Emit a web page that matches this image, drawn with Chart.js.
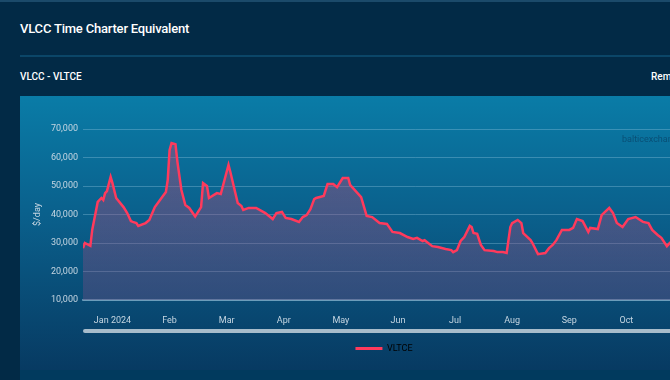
<!DOCTYPE html>
<html>
<head>
<meta charset="utf-8">
<title>VLCC Time Charter Equivalent</title>
<script src="https://cdn.jsdelivr.net/npm/chart.js@4/dist/chart.umd.min.js"></script>
<style>
    html, body { margin: 0; padding: 0; }
    body {
        width: 670px; height: 380px; overflow: hidden; position: relative;
        background: #022a46; font-family: Roboto, "Noto Sans", sans-serif; color: #fff;
    }
    .borda-topo { position: absolute; left: 0; top: 0; width: 100%; height: 2px; background: #1b4a6a; }
    .titulo { position: absolute; left: 20px; top: 21px; font-size: 13px; font-weight: 500; letter-spacing: -0.2px; }
    .linha { position: absolute; left: 20px; top: 55px; width: 700px; height: 2px; background: #0b4668; }
    .subtitulo { position: absolute; left: 20px; top: 71px; font-size: 10px; font-weight: 500; }
    .rem { position: absolute; left: 651px; top: 71px; font-size: 10px; font-weight: 500; }
    .rodape { position: absolute; left: 20px; top: 370px; width: 700px; height: 10px; background: #013a5e; }
    .painel {
        position: absolute; left: 20px; top: 96px; width: 738px; height: 274px;
        background: linear-gradient(to bottom, #0a7ca7 0%, #0a5f8b 45%, #073a62 100%);
    }
    .marca { position: absolute; left: 602px; top: 38px; font-size: 9px; color: rgba(8, 55, 90, 0.6); }
    .scroll { position: absolute; left: 63px; top: 233px; width: 700px; height: 4px; border-radius: 2px; background: #a7bccb; }
</style>
</head>
<body>
<div class="borda-topo"></div>
<div class="titulo">VLCC Time Charter Equivalent</div>
<div class="linha"></div>
<div class="subtitulo">VLCC - VLTCE</div>
<div class="rem">Rem</div>
<div class="rodape"></div>
<div class="painel">
    <canvas id="graficoVltce"></canvas>
    <div class="marca">balticexchange</div>
    <div class="scroll"></div>
</div>

<script>
// Rótulos dos meses no eixo x
var meses = ['Jan 2024', 'Feb', 'Mar', 'Apr', 'May', 'Jun', 'Jul', 'Aug', 'Sep', 'Oct', 'Nov'];

// Datas dos pontos da série
var datas = [
    '2023-12-16', '2023-12-17', '2023-12-20', '2023-12-21', '2023-12-24', '2023-12-26', '2023-12-27', '2023-12-28', '2023-12-29', '2023-12-31',
    '2024-01-01', '2024-01-03', '2024-01-07', '2024-01-09', '2024-01-11', '2024-01-12', '2024-01-14', '2024-01-15', '2024-01-19', '2024-01-21', '2024-01-24', '2024-01-28', '2024-01-30', '2024-01-31',
    '2024-02-01', '2024-02-02', '2024-02-04', '2024-02-05', '2024-02-07', '2024-02-09', '2024-02-11', '2024-02-14', '2024-02-17', '2024-02-18', '2024-02-20', '2024-02-21', '2024-02-25', '2024-02-27',
    '2024-03-02', '2024-03-03', '2024-03-07', '2024-03-09', '2024-03-10', '2024-03-13', '2024-03-17', '2024-03-22', '2024-03-26', '2024-03-28', '2024-03-31',
    '2024-04-02', '2024-04-05', '2024-04-09', '2024-04-11', '2024-04-13', '2024-04-15', '2024-04-17', '2024-04-18', '2024-04-22', '2024-04-24', '2024-04-27', '2024-04-29',
    '2024-05-02', '2024-05-05', '2024-05-06', '2024-05-12', '2024-05-15', '2024-05-18', '2024-05-22', '2024-05-26', '2024-05-29',
    '2024-06-02', '2024-06-06', '2024-06-09', '2024-06-11', '2024-06-14', '2024-06-15', '2024-06-19', '2024-06-22', '2024-06-26', '2024-06-29', '2024-06-30',
    '2024-07-02', '2024-07-04', '2024-07-06', '2024-07-09', '2024-07-10', '2024-07-11', '2024-07-13', '2024-07-15', '2024-07-17', '2024-07-22', '2024-07-24', '2024-07-27', '2024-07-29', '2024-07-31',
    '2024-08-01', '2024-08-04', '2024-08-06', '2024-08-07', '2024-08-11', '2024-08-12', '2024-08-15', '2024-08-19', '2024-08-21', '2024-08-23', '2024-08-25', '2024-08-28',
    '2024-09-01', '2024-09-03', '2024-09-05', '2024-09-08', '2024-09-11', '2024-09-12', '2024-09-16', '2024-09-18', '2024-09-22', '2024-09-24', '2024-09-26', '2024-09-29',
    '2024-10-02', '2024-10-06', '2024-10-10', '2024-10-13', '2024-10-15', '2024-10-18', '2024-10-20', '2024-10-23', '2024-10-25'
];

// Valores VLTCE em $/dia
var vltce = [
    28200, 30000, 29000, 34600, 44400, 45800, 45100, 47500, 48200, 53200,
    51000, 45800, 42600, 40500, 37700, 37400, 37000, 36000, 37000, 38100, 42600, 46100, 47900, 52100,
    62600, 65100, 64700, 58400, 48600, 43300, 42300, 39300, 42600, 51000, 50000, 45800, 47500, 47200,
    57400, 54900, 44000, 43000, 41600, 42300, 42300, 40500, 38400, 40500, 40900,
    38800, 38400, 37400, 39100, 39800, 41900, 45400, 45800, 46500, 50700, 50700, 49600,
    52800, 52800, 50400, 46100, 39500, 39100, 37000, 36700, 33900,
    33500, 32100, 31400, 31800, 30700, 31000, 28900, 28600, 27900, 27500, 26800,
    27500, 30700, 32100, 36000, 35600, 33500, 33200, 29300, 27500, 27200, 26800, 26800, 26500, 35600,
    37000, 38100, 37000, 33500, 31000, 30000, 26100, 26500, 28200, 29300, 31000, 34600,
    34600, 35300, 38400, 37700, 33900, 35300, 34900, 39800, 42300, 40500, 37000, 35600,
    38400, 39100, 37400, 37000, 34600, 32800, 31800, 28900, 30300
];

// Ticks do eixo y
var ticksY = [10000, 20000, 30000, 40000, 50000, 60000, 70000];

// Converte a data numa posição em meses (Jan 2024 = 0), meses com largura igual
function posicaoMes(data) {
    var p = data.split('-');
    var ano = parseInt(p[0], 10), mes = parseInt(p[1], 10), dia = parseInt(p[2], 10);
    var diasNoMes = new Date(ano, mes, 0).getDate();
    return (ano - 2024) * 12 + (mes - 1) + (dia - 1) / diasNoMes;
}

var pontos = datas.map(function(d, i) {
    return { x: posicaoMes(d), y: vltce[i] };
});

var corLinha = '#ff3a5c';
var ctx = document.getElementById('graficoVltce');

new Chart(ctx.getContext('2d'), {
    type: 'line',
    data: {
        datasets: [{
            label: 'VLTCE',
            data: pontos,
            borderColor: corLinha,
            borderWidth: 2.5,
            pointRadius: 0,
            tension: 0,
            fill: 'start',
            backgroundColor: function(context) {
                var area = context.chart.chartArea;
                if (!area) return 'rgba(170,80,120,0.4)';
                var g = context.chart.ctx.createLinearGradient(0, area.top, 0, area.bottom);
                g.addColorStop(0, 'rgba(200,70,115,0.45)');
                g.addColorStop(1, 'rgba(120,80,135,0.35)');
                return g;
            }
        }]
    },
    options: {
        responsive: true,
        maintainAspectRatio: false,
        animation: false,
        layout: { padding: { top: 33, right: 10, bottom: 7, left: 0 } },
        plugins: {
            tooltip: { enabled: false },
            legend: {
                position: 'bottom',
                labels: {
                    boxWidth: 27,
                    boxHeight: 3,
                    padding: 6,
                    color: '#1a3654',
                    font: { family: 'Roboto', size: 9 },
                    generateLabels: function(chart) {
                        return [{
                            text: 'VLTCE',
                            fillStyle: corLinha,
                            strokeStyle: corLinha,
                            lineWidth: 0,
                            datasetIndex: 0
                        }];
                    }
                }
            }
        },
        scales: {
            x: {
                type: 'linear',
                min: posicaoMes(datas[0]),
                max: 11.13,
                grid: { display: false },
                border: { display: true, color: 'rgba(150,190,215,0.55)', width: 2 },
                afterBuildTicks: function(scale) {
                    scale.ticks = meses.map(function(m, i) { return { value: i }; });
                },
                afterFit: function(scale) { scale.height = 38; },
                ticks: {
                    autoSkip: false,
                    maxRotation: 0,
                    padding: 7,
                    color: '#c6d6e2',
                    font: { family: 'Roboto', size: 9 },
                    callback: function(value) { return meses[Math.round(value)]; }
                }
            },
            y: {
                min: 10000,
                max: 70000,
                afterBuildTicks: function(scale) {
                    scale.ticks = ticksY.map(function(v) { return { value: v }; });
                },
                afterFit: function(scale) { scale.width = 63; },
                grid: { color: 'rgba(150,200,225,0.35)', lineWidth: 1, drawTicks: false },
                border: { display: false },
                title: {
                    display: true,
                    text: '$/day',
                    color: '#c6d6e2',
                    font: { family: 'Roboto', size: 9 },
                    padding: { top: 12, bottom: 0 }
                },
                ticks: {
                    padding: 5,
                    color: '#c6d6e2',
                    font: { family: 'Roboto', size: 9 },
                    callback: function(value) { return value.toLocaleString('en-US'); }
                }
            }
        }
    }
});
</script>
</body>
</html>
